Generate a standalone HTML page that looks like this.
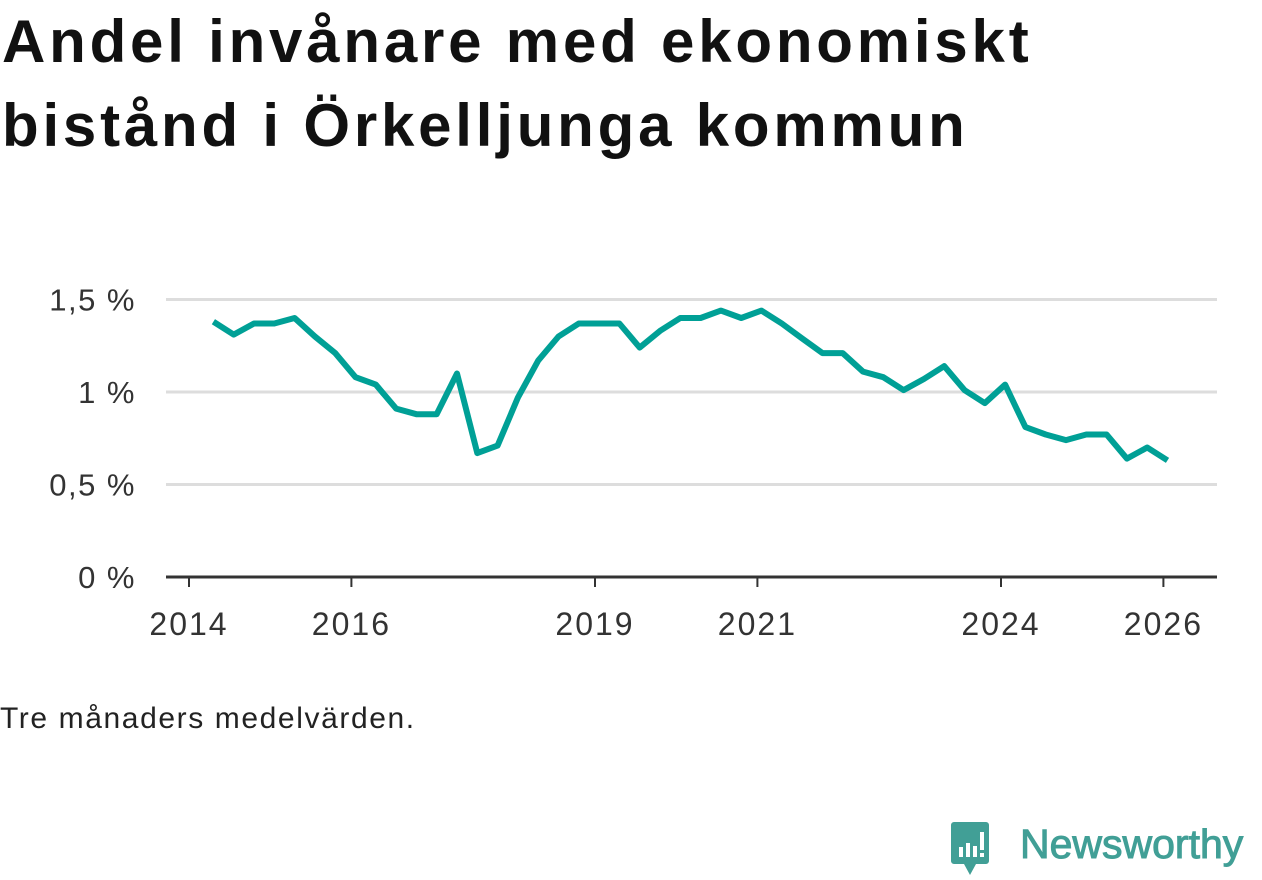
<!DOCTYPE html>
<html><head><meta charset="utf-8"><style>
body{margin:0;background:#fff;width:1262px;height:879px;overflow:hidden;font-family:"Liberation Sans",sans-serif;}
h1{position:absolute;left:2px;top:0px;margin:0;font-size:60px;line-height:84px;font-weight:bold;color:#111;letter-spacing:3.8px}
.note{position:absolute;left:0;top:702px;font-size:30px;letter-spacing:1.6px;color:#222}
</style></head><body>
<h1>Andel invånare med ekonomiskt<br>bistånd i Örkelljunga kommun</h1>
<svg id="chart" width="1262" height="879" style="position:absolute;left:0;top:0"></svg>
<div class="note">Tre månaders medelvärden.</div>
<svg width="322" height="70" style="position:absolute;left:940px;top:810px">
<path d="M14 12 h32 a3 3 0 0 1 3 3 v36 a3 3 0 0 1 -3 3 h-10 l-6 11 l-6 -11 h-10 a3 3 0 0 1 -3 -3 v-36 a3 3 0 0 1 3 -3z" fill="#419f96"/>
<rect x="19" y="37" width="4" height="10" fill="#fff"/><rect x="26" y="33" width="4" height="14" fill="#fff"/><rect x="33" y="36" width="4" height="11" fill="#fff"/><rect x="40" y="22" width="4" height="18" fill="#fff"/><rect x="40" y="43" width="4" height="4" fill="#fff"/>
<text x="80" y="48" font-size="41" font-family="Liberation Sans,sans-serif" fill="#419f96" stroke="#419f96" stroke-width="1">Newsworthy</text>
</svg>
<script>
const years=[2014,2016,2019,2021,2024,2026];
const yTicks=[0,0.5,1,1.5];
const yLabels=["0 %","0,5 %","1 %","1,5 %"];
const startYear=2014.3;
const values=[1.38,1.31,1.37,1.37,1.40,1.30,1.21,1.08,1.04,0.91,0.88,0.88,1.10,0.67,0.71,0.97,1.17,1.30,1.37,1.37,1.37,1.24,1.33,1.40,1.40,1.44,1.40,1.44,1.37,1.29,1.21,1.21,1.11,1.08,1.01,1.07,1.14,1.01,0.94,1.04,0.81,0.77,0.74,0.77,0.77,0.64,0.70,0.63];
const svg=document.getElementById('chart');const NS='http://www.w3.org/2000/svg';
const X=t=>189+(t-2014)*81.2;
const Y=v=>577-v*185;
function mk(tag,attrs){const e=document.createElementNS(NS,tag);for(const k in attrs)e.setAttribute(k,attrs[k]);svg.appendChild(e);return e;}
yTicks.forEach((v,i)=>{
 if(v>0){const g=mk('line',{x1:166,x2:1217,y1:Y(v),y2:Y(v),stroke:'#ddd','stroke-width':3});
 
 }
 const t=mk('text',{x:136,y:Y(v)+11,'text-anchor':'end','font-size':31,'letter-spacing':1.5,fill:'#333'});t.textContent=yLabels[i];
 
 
});
const ax=mk('line',{x1:166,x2:1217,y1:577,y2:577,stroke:'#333','stroke-width':3});


years.forEach(y=>{
 const tk=mk('line',{x1:X(y),x2:X(y),y1:577,y2:587,stroke:'#333','stroke-width':2});
 
 
 const t=mk('text',{x:X(y),y:635,'text-anchor':'middle','font-size':32,'letter-spacing':2,fill:'#333'});t.textContent=y;
 
 
});
const pts=values.map((v,i)=>X(startYear+i*0.25).toFixed(1)+','+Y(v).toFixed(1)).join(' ');
const line=mk('polyline',{points:pts,fill:'none',stroke:'#00a096','stroke-width':6,'stroke-linejoin':'round'});


</script>
</body></html>
